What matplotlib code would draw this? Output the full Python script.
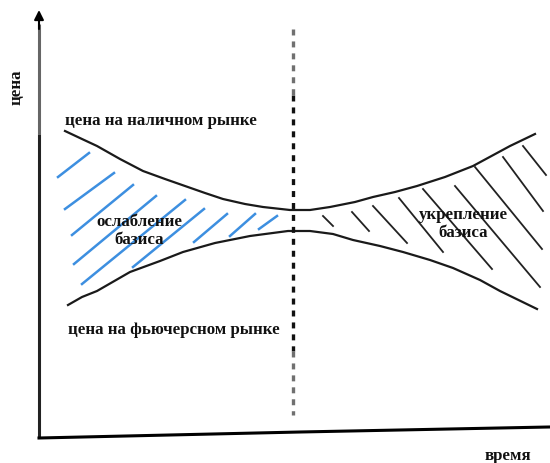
import matplotlib.pyplot as plt

plt.rcParams['font.family'] = ['Liberation Serif', 'DejaVu Serif']
plt.rcParams['lines.scale_dashes'] = False

# curves (pixel-like units, y grows downwards)
spot_x = [65, 82, 97, 120, 143, 165, 185, 205, 223, 245, 263, 290, 310,
          330, 355, 373, 395, 417, 445, 473, 510, 535]
spot_y = [132, 140, 147, 160, 172, 180, 187, 194, 200, 205, 208, 211, 211,
          208, 203, 198, 193, 187, 178, 167, 147, 135]

futures_x = [68, 82, 97, 130, 160, 183, 215, 250, 288, 310, 333, 353, 380,
             403, 430, 453, 480, 500, 537]
futures_y = [306, 298, 292, 273, 262, 253, 244, 237, 232, 232, 235, 241, 247,
             253, 261, 269, 281, 292, 310]

# hatch strokes: (x0, y0, x1, y1)
weak_strokes = [(58, 178, 89, 154), (65, 210, 114, 174), (72, 236, 133, 186),
                (74, 265, 156, 197), (82, 285, 185, 201), (133, 268, 204, 210),
                (194, 243, 227, 215), (230, 237, 255, 215), (259, 230, 277, 217)]
strong_strokes = [(323, 217, 333, 227), (352, 213, 369, 232),
                  (373, 207, 407, 244), (399, 199, 443, 253),
                  (423, 190, 492, 270), (455, 187, 540, 288),
                  (475, 168, 542, 250), (503, 158, 543, 212),
                  (523, 147, 546, 176)]

# dashed separator: (colour, y top, y bottom)
separator_x = 293
separator_parts = [('#707070', 30, 96), ('#111111', 96, 352),
                   ('#707070', 352, 416)]

# initialize figure
fig = plt.figure(figsize=(5.5, 4.64), dpi=100)
ax = fig.add_axes([0, 0, 1, 1])
ax.set_xlim(0, 550)
ax.set_ylim(464, 0)
ax.axis('off')

# axes arrows
ax.plot([39, 39], [25, 135], color='#666666', lw=2.2, solid_capstyle='butt')
ax.plot([39, 39], [135, 439], color='#222222', lw=2.2, solid_capstyle='butt')
ax.annotate('', xy=(39, 11), xytext=(39, 30),
            arrowprops=dict(arrowstyle='-|>', color='k', lw=1.5,
                            mutation_scale=14, shrinkA=0, shrinkB=0))
ax.plot([39, 300, 549], [439, 433, 428], color='k', lw=2.2)
ax.annotate('', xy=(551, 428), xytext=(540, 428.2),
            arrowprops=dict(arrowstyle='-|>', color='k', lw=1.5,
                            mutation_scale=12, shrinkA=0, shrinkB=0))

# price curves
ax.plot(spot_x, spot_y, color='#1a1a1a', lw=1.6)
ax.plot(futures_x, futures_y, color='#1a1a1a', lw=1.6)

# hatching
for x0, y0, x1, y1 in weak_strokes:
    ax.plot([x0, x1], [y0, y1], color='#3d8fe0', lw=1.8)
for x0, y0, x1, y1 in strong_strokes:
    ax.plot([x0, x1], [y0, y1], color='#222222', lw=1.3)

# separator
for color, top, bottom in separator_parts:
    ax.plot([separator_x, separator_x], [top, bottom], color=color, lw=2.4,
            linestyle=(0, (4.3, 4.3)))

# labels
text = dict(fontsize=12.2, color='#111111', fontweight='bold')
ax.text(17, 87, 'цена', rotation=90, ha='center', va='center', **text)
ax.text(65, 121, 'цена на наличном рынке', ha='left', va='center', **text)
ax.text(68, 330, 'цена на фьючерсном рынке', ha='left', va='center', **text)
ax.text(139, 231, 'ослабление\nбазиса', ha='center', va='center',
        linespacing=1.1, **text)
ax.text(463, 224, 'укрепление\nбазиса', ha='center', va='center',
        linespacing=1.1, **text)
ax.text(508, 456, 'время', ha='center', va='center', **text)

fig.savefig('out.png')
